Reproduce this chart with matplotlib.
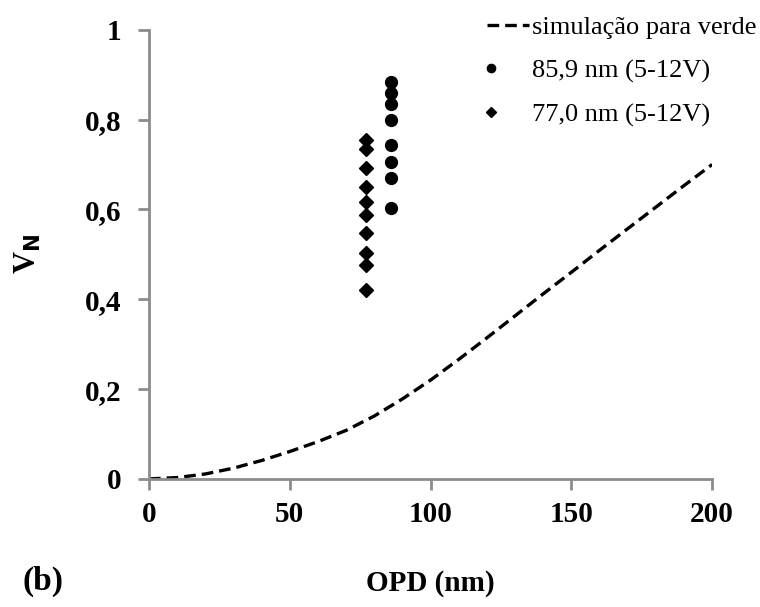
import numpy as np
import matplotlib.pyplot as plt
import matplotlib.ticker as mticker
from matplotlib.legend_handler import HandlerLine2D

# simulated curve (simulação para verde)
sim_opd = [0, 10, 20, 30, 40, 50, 60, 70, 80, 90, 100, 110, 120, 130, 140, 150, 160, 170, 180, 190, 200]
sim_vn = [0, 0.003, 0.011, 0.024, 0.041, 0.061, 0.083, 0.108, 0.140, 0.178, 0.220, 0.266, 0.314, 0.363, 0.412, 0.460, 0.509, 0.557, 0.605, 0.653, 0.700]

# measured points
opd_859 = [86, 86, 86, 86, 86, 86, 86, 86]
vn_859 = [0.884, 0.860, 0.835, 0.800, 0.744, 0.706, 0.670, 0.604]
opd_770 = [77, 77, 77, 77, 77, 77, 77, 77, 77, 77]
vn_770 = [0.755, 0.735, 0.693, 0.650, 0.617, 0.588, 0.548, 0.503, 0.477, 0.421]


class LeftMarkerHandler(HandlerLine2D):
    # put the single marker at the left of the handle, like Excel does
    # (the marker is drawn at the midpoint of xdata, the line itself is invisible)
    def get_xdata(self, legend, xdescent, ydescent, width, height, fontsize):
        m = -xdescent + 0.1 * width
        return np.array([m - 1, m + 1]), np.array([m])


plt.rcParams['font.family'] = ['Liberation Serif', 'DejaVu Serif']

fig = plt.figure(figsize=(7.6, 6.07), dpi=100)
ax = fig.add_axes([0.196, 0.211, 0.741, 0.740])

ax.plot(sim_opd, sim_vn, color='black', linestyle=(0, (3.5, 1.8)), linewidth=2.4,
        label='simulação para verde')
pts1, = ax.plot(opd_859, vn_859, 'o', color='black', markersize=8.5, label='85,9 nm (5-12V)')
pts2, = ax.plot(opd_770, vn_770, 'D', color='black', markersize=7.5, label='77,0 nm (5-12V)')

ax.set_xlim(0, 200)
ax.set_ylim(0, 1)
ax.set_xticks([0, 50, 100, 150, 200])
ax.set_yticks([0, 0.2, 0.4, 0.6, 0.8, 1])
ax.yaxis.set_major_formatter(mticker.FuncFormatter(
    lambda v, p: '0' if v == 0 else ('1' if v == 1 else f'{v:.1f}'.replace('.', ','))))

for side in ['top', 'right']:
    ax.spines[side].set_visible(False)
for side in ['left', 'bottom']:
    ax.spines[side].set_color('#8c8c8c')
    ax.spines[side].set_linewidth(2)
ax.tick_params(direction='out', length=8, width=2, color='#8c8c8c', labelsize=21)
ax.tick_params(axis='y', pad=12)
ax.tick_params(axis='x', pad=8)
for lab in ax.get_xticklabels() + ax.get_yticklabels():
    lab.set_fontweight('bold')

ax.set_xlabel('OPD (nm)', fontsize=21, fontweight='bold', labelpad=30)
ax.set_ylabel(r'V$_\mathbf{N}$', fontsize=22, fontweight='bold', labelpad=30)

fig.text(0.029, 0.028, '(b)', fontsize=24, fontweight='bold', va='baseline')

ax.legend(loc='upper right', bbox_to_anchor=(1.121, 1.085), frameon=False, fontsize=19,
          handlelength=1.6, handletextpad=0.12, labelspacing=0.76, markerscale=0.7,
          handler_map={pts1: LeftMarkerHandler(), pts2: LeftMarkerHandler()})

fig.savefig('out.png', dpi=100)
